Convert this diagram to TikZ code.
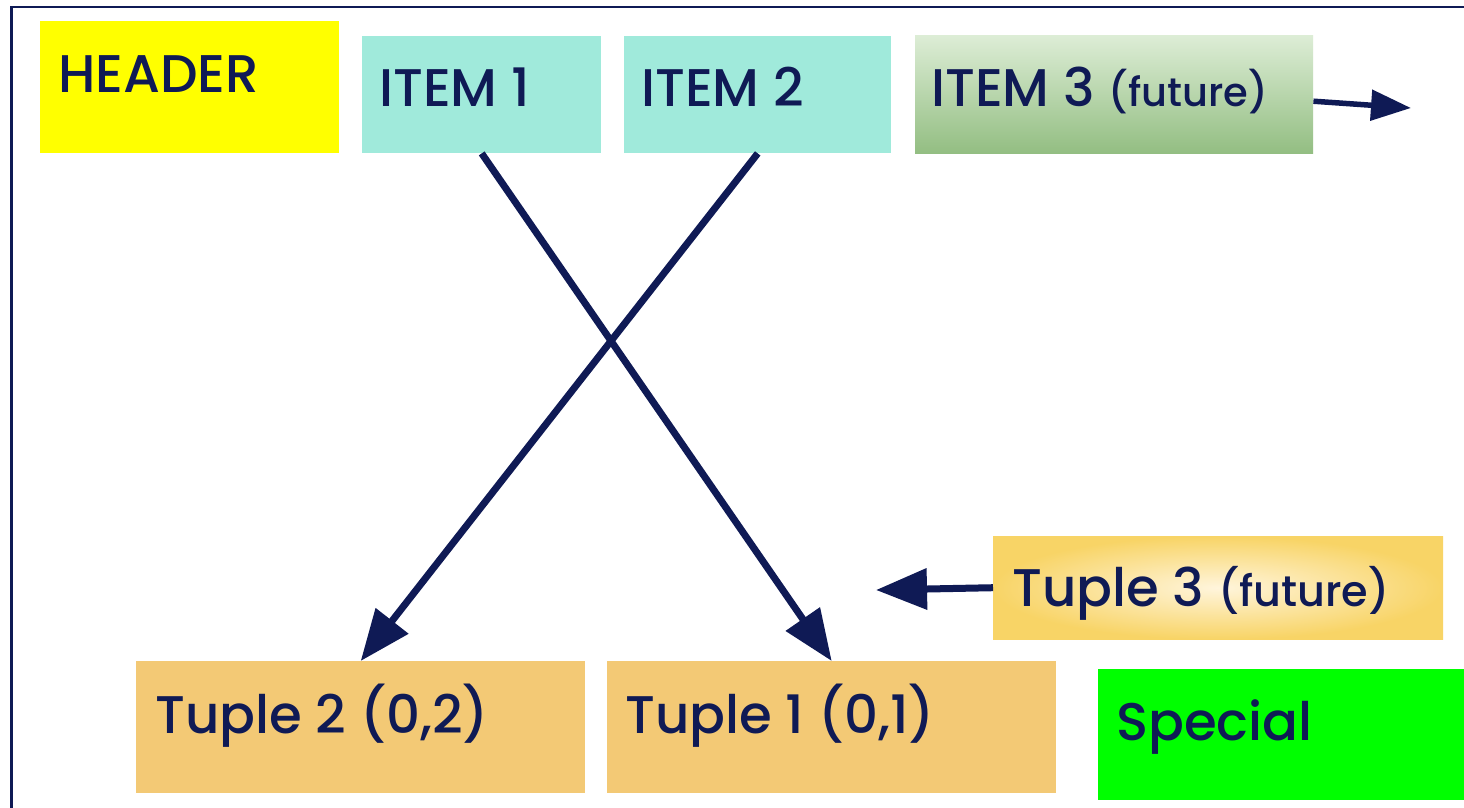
\documentclass[tikz,border=0pt]{standalone}
\usepackage{fontspec}
\setmainfont{Poppins Medium}
\usetikzlibrary{arrows.meta,calc}
\definecolor{navy}{HTML}{0F1A55}
\definecolor{teal}{HTML}{A0EADB}
\definecolor{tupleor}{HTML}{F3C975}
\definecolor{gtop}{HTML}{DDEDD6}
\definecolor{gbot}{HTML}{93BE82}
\definecolor{ycenter}{HTML}{FFF5DC}
\definecolor{yedge}{HTML}{F8D466}
\definecolor{hdr}{HTML}{FFFF00}
\definecolor{spec}{HTML}{00FF00}
\begin{document}
\begin{tikzpicture}[x=1pt,y=-1pt,
  box/.style={draw=none, inner sep=0pt, anchor=north west},
  lbl/.style={anchor=base west, inner sep=0pt, text=navy, font=\fontsize{53}{61}\selectfont},
  conn/.style={draw=navy, line width=7pt, -{Triangle[length=51pt,width=40pt]}},
  connsmall/.style={draw=navy, line width=5.5pt, -{Triangle[length=40pt,width=30pt]}},
]
\useasboundingbox (0,0) rectangle (1464,807);
\clip (0,0) rectangle (1464,807);
\fill[white] (0,0) rectangle (1464,807);
\draw[navy, line width=2.5pt] (11.5,7) rectangle (1480,830);

% boxes
\node[box, fill=hdr, minimum width=299pt, minimum height=132pt] (header) at (40,21) {};
\node[box, fill=teal, minimum width=239pt, minimum height=117pt] (item1) at (362,36) {};
\node[box, fill=teal, minimum width=267pt, minimum height=117pt] (item2) at (624,36) {};
\node[box, top color=gtop, bottom color=gbot, minimum width=398pt, minimum height=118pt] (item3) at (915,35) {};
\node[box, inner color=ycenter, outer color=yedge, minimum width=450pt, minimum height=103pt] (tuple3) at (993,536) {};
\node[box, fill=tupleor, minimum width=449pt, minimum height=132pt] (tuple2) at (136,661) {};
\node[box, fill=tupleor, minimum width=449pt, minimum height=132pt] (tuple1) at (607,661) {};
\node[box, fill=spec, minimum width=380pt, minimum height=131pt] (special) at (1098,669) {};

% labels
\node[lbl] (headert) at (58,92) {HEADER};
\node[lbl] (item1t) at (379,106) {ITEM 1};
\node[lbl] (item2t) at (641,106) {ITEM 2};
\node[lbl] (item3t) at (931,106) {ITEM 3 {\fontsize{40}{46}\selectfont (future)}};
\node[lbl] (tuple3t) at (1012,606) {Tuple 3 {\fontsize{43}{50}\selectfont (future)}};
\node[lbl] (tuple2t) at (155,733) {Tuple 2 (0,2)};
\node[lbl] (tuple1t) at (625,733) {Tuple 1 (0,1)};
\node[lbl] (specialt) at (1116,740) {Special};

% connectors
\draw[conn] (item1.south) -- (tuple1.north);
\draw[conn] (item2.south) -- (tuple2.north);
\coordinate (i3end) at (1411,108);
\draw[connsmall] ([yshift=-7pt]item3.east) -- (i3end);
\coordinate (t3end) at (876,590);
\draw[conn] (tuple3.west) -- (t3end);
\end{tikzpicture}
\end{document}
